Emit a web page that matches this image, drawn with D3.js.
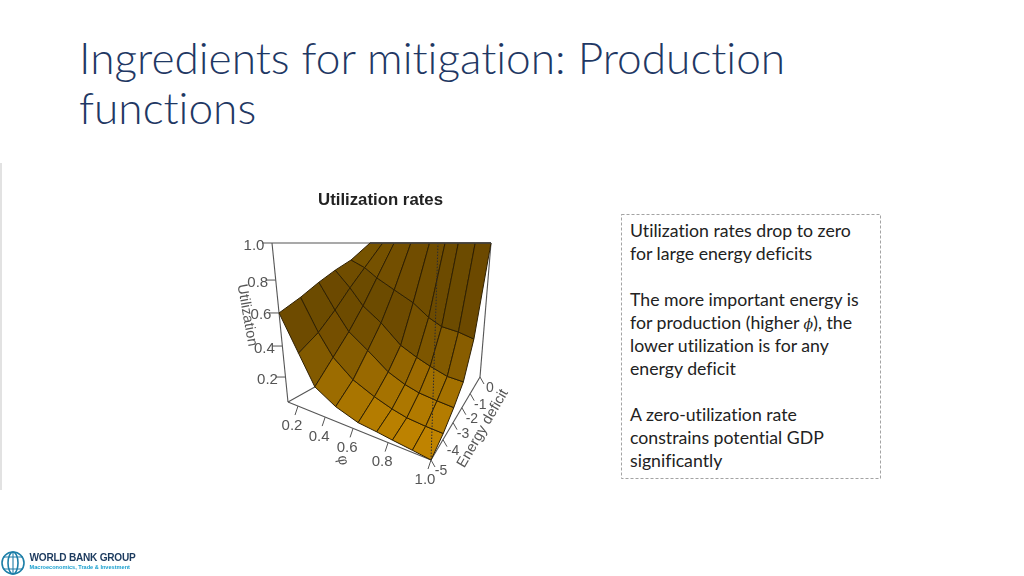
<!DOCTYPE html>
<html><head><meta charset="utf-8">
<script src="https://cdnjs.cloudflare.com/ajax/libs/d3/7.8.5/d3.min.js"></script>
<style>html,body{margin:0;padding:0;background:#fff;overflow:hidden}svg{display:block}text{font-variant-ligatures:none}</style>
</head><body><svg id="c" width="1024" height="576"></svg>
<script>
// ---- data ----
const titleLines = ["Ingredients for mitigation: Production", "functions"];
const chartTitle = "Utilization rates";
const phiGrid = [0.1, 0.237, 0.337, 0.48, 0.63, 0.735, 0.82, 0.913, 1.0];
const deficitGrid = [-5, -4, -3, -2, -1, 0];
const utilD5 = [0.60, 0.38, 0.20, 0.13, 0.09, 0.08, 0.07, 0.06, 0.05];
const utilD4 = [0.67, 0.46, 0.32, 0.21, 0.15, 0.115, 0.095, 0.085, 0.08];
const utilD3 = [0.75, 0.57, 0.44, 0.34, 0.23, 0.18, 0.155, 0.14, 0.13];
const utilD2 = [0.82, 0.70, 0.58, 0.48, 0.35, 0.29, 0.25, 0.21, 0.20];
const utilD1 = [0.88, 0.83, 0.76, 0.68, 0.60, 0.51, 0.46, 0.44, 0.41];
const utilD0 = [1, 1, 1, 1, 1, 1, 1, 1, 1];
const utilRows = [utilD5, utilD4, utilD3, utilD2, utilD1, utilD0];
const utilTicks = [0.2, 0.4, 0.6, 0.8, 1.0];
const phiTicks = [0.2, 0.4, 0.6, 0.8, 1.0];
const deficitTicks = [-5, -4, -3, -2, -1, 0];
const note = [
  [["Utilization rates drop to zero"], ["for large energy deficits"]],
  [["The more important energy is"], ["for production (higher ", "ϕ", "), the"], ["lower utilization is for any"], ["energy deficit"]],
  [["A zero-utilization rate"], ["constrains potential GDP"], ["significantly"]]
];

// ---- perspective box: scales to 0..1 along each edge, then corner blend ----
const pScale = d3.scaleLinear().domain([0.1, 0.2, 0.4, 0.6, 0.8, 1]).range([0, 0.07, 0.26, 0.455, 0.70, 1]);
const tScale = d3.scaleLinear().domain([-5, -4, -3, -2, -1, 0]).range([0, 0.245, 0.45, 0.63, 0.80, 1]);
const sScale = d3.scaleLinear().domain([0.05, 0.2, 0.4, 0.6, 0.8, 1]).range([0, 0.157, 0.352, 0.56, 0.767, 1]);
const floorC = {A:[288,402], B:[431,460], C:[480,377], D:[372,355]};
const topC   = {A:[272,243], B:[438,243], C:[491,243], D:[370,243]};
const lerp = (a,b,t)=>[a[0]+(b[0]-a[0])*t, a[1]+(b[1]-a[1])*t];
function project(phi, d, z){
  const p=pScale(phi), t=tScale(d), s=sScale(z);
  const f=lerp(lerp(floorC.A,floorC.B,p),lerp(floorC.D,floorC.C,p),t);
  const u=lerp(lerp(topC.A,topC.B,p),lerp(topC.D,topC.C,p),t);
  return lerp(f,u,s);
}
const svg=d3.select("#c");
const defs=svg.append("defs");
defs.append("filter").attr("id","soft").attr("x","-5%").attr("y","-5%").attr("width","110%").attr("height","110%")
  .append("feGaussianBlur").attr("stdDeviation",0.4);
const line=d3.line();

// page furniture
svg.append("line").attr("x1",1).attr("x2",1).attr("y1",163).attr("y2",490).attr("stroke","#d9d9d9").attr("stroke-width",1.5);
svg.append("g").selectAll("text").data(titleLines).join("text")
  .attr("x",79).attr("y",(d,i)=>74+i*50).text(d=>d)
  .attr("font-family","Lato").attr("font-weight",300).attr("font-size",44.2).attr("fill","#1f3864");

// plot
const g=svg.append("g").attr("filter","url(#soft)");
g.append("text").attr("x",380.5).attr("y",205).attr("text-anchor","middle").text(chartTitle)
  .attr("font-family","Liberation Sans").attr("font-weight",700).attr("font-size",16.8).attr("fill","#222");

const boxStroke="#555";
const P=(a,b,c)=>project(a,b,c);
const zMin=0.05;
[[[0.1,-5,zMin],[0.1,-5,1]],[[0.1,-5,zMin],[1,-5,zMin]],[[1,-5,zMin],[1,0,zMin]],[[1,0,zMin],[1,0,1]],[[0.1,-5,zMin],[0.1,0,zMin]],[[0.1,-5,1],[1,0,1]]]
 .forEach(e=>g.append("path").attr("d",line(e.map(v=>P(...v)))).attr("stroke",boxStroke).attr("fill","none").attr("stroke-width",1.1));

// facets
const shade=d3.scaleLinear().domain([0.07,0.1,0.15,0.25,0.35,0.5,0.7,1])
  .range(["#bf8306","#b67e06","#a87405","#966704","#805805","#6e4c04","#6b4a04","#7a5406"]);
const cells=[];
deficitGrid.slice(0,-1).forEach((d,i)=>phiGrid.slice(0,-1).forEach((ph,j)=>{
  const zs=[utilRows[i][j],utilRows[i][j+1],utilRows[i+1][j+1],utilRows[i+1][j]];
  cells.push({pts:[P(ph,d,zs[0]),P(phiGrid[j+1],d,zs[1]),P(phiGrid[j+1],deficitGrid[i+1],zs[2]),P(ph,deficitGrid[i+1],zs[3])],z:d3.mean(zs)});
}));
g.append("g").selectAll("path").data(cells).join("path")
  .attr("d",c=>line(c.pts)+"Z").attr("fill",c=>shade(c.z)).attr("stroke","#2f1f02").attr("stroke-width",1).attr("stroke-linejoin","round");

// dotted front vertical and top rail
g.append("path").attr("d",line([P(1,-5,zMin),P(1,-5,1)])).attr("stroke","#2b2b2b").attr("stroke-dasharray","1.5 1.5").attr("fill","none").attr("stroke-width",1);
g.append("path").attr("d",line([P(0.1,0,1),P(1,0,1)])).attr("stroke","#444").attr("fill","none").attr("stroke-width",1.3);

// ticks + labels
const axisFont={family:"Liberation Sans",size:15,fill:"#555"};
function label(sel){return sel.attr("font-family",axisFont.family).attr("font-size",axisFont.size).attr("fill",axisFont.fill).attr("text-anchor","middle").attr("dominant-baseline","central");}
const fmt=d3.format(".1f");
utilTicks.forEach(v=>{const q=P(0.1,-5,v);
  g.append("line").attr("x1",q[0]).attr("y1",q[1]).attr("x2",q[0]-10).attr("y2",q[1]).attr("stroke",boxStroke);
  label(g.append("text")).attr("x",q[0]-18).attr("y",q[1]+1).text(fmt(v));});
phiTicks.forEach(v=>{const q=P(v,-5,zMin);
  g.append("line").attr("x1",q[0]).attr("y1",q[1]).attr("x2",q[0]-3).attr("y2",q[1]+9).attr("stroke",boxStroke);
  label(g.append("text")).attr("x",q[0]-6).attr("y",q[1]+18).text(fmt(v));});
deficitTicks.forEach(v=>{const q=P(1,v,zMin);
  g.append("line").attr("x1",q[0]).attr("y1",q[1]).attr("x2",q[0]+4).attr("y2",q[1]+7).attr("stroke",boxStroke);
  label(g.append("text")).attr("x",q[0]+10).attr("y",q[1]+10).text(v).attr("font-size",14);});
label(g.append("text")).attr("transform","translate(248,315) rotate(80)").text("Utilization").attr("font-size",14.5);
label(g.append("text")).attr("transform","translate(482,428) rotate(-60)").text("Energy deficit").attr("font-size",14.5);
label(g.append("text")).attr("transform","translate(344,460) rotate(80)").text("φ").attr("font-size",15);

// note box
svg.append("rect").attr("x",621.5).attr("y",214.5).attr("width",259).attr("height",264)
  .attr("fill","none").attr("stroke","#8c8c8c").attr("stroke-dasharray","3 2").attr("stroke-width",0.8);
const nt=svg.append("g").attr("font-family","Lato").attr("font-size",17.7).attr("fill","#222");
let y=237;
note.forEach(par=>{par.forEach(l=>{
  const t=nt.append("text").attr("x",630).attr("y",y);
  l.forEach((s,i)=>t.append("tspan").text(s).attr("font-style",i===1?"italic":null).attr("font-family",i===1?"DejaVu Serif":null).attr("font-size",i===1?14:null));
  y+=23;}); y+=23;});

// logo
const lg=svg.append("g").attr("filter","url(#soft)");
const gl=lg.append("g").attr("fill","none").attr("stroke","#1e7fa8").attr("stroke-width",1.6);
gl.append("ellipse").attr("cx",13).attr("cy",563).attr("rx",11).attr("ry",11);
gl.append("ellipse").attr("cx",13).attr("cy",563).attr("rx",5).attr("ry",11);
gl.append("path").attr("d","M3 557H23M3 569H23M13 552V574").attr("stroke-width",1.1);
lg.append("text").attr("x",29.5).attr("y",561).text("WORLD BANK GROUP").attr("font-family","Liberation Sans").attr("font-weight",700).attr("font-size",10.1).attr("fill","#1c3a5e").attr("letter-spacing","-0.25");
lg.append("text").attr("x",29.5).attr("y",569).text("Macroeconomics, Trade & Investment").attr("font-family","Liberation Sans").attr("font-weight",700).attr("font-size",5.6).attr("fill","#1aa0cf");
</script></body></html>
